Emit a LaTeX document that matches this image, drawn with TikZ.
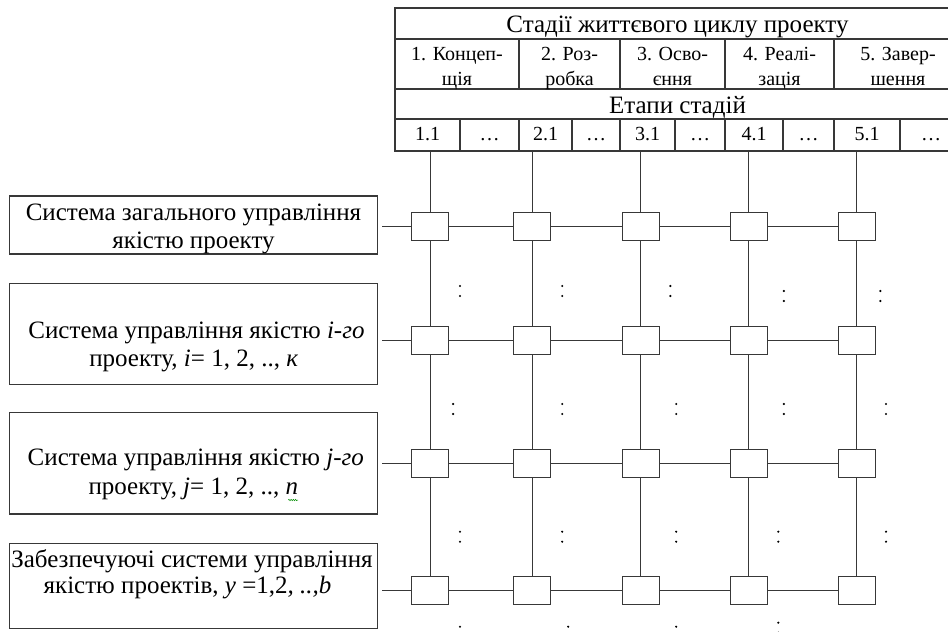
\documentclass[tikz,border=0pt]{standalone}
\usepackage{fontspec}
\setmainfont{Liberation Serif}
\usetikzlibrary{decorations.pathmorphing}
\begin{document}
\begin{tikzpicture}[x=1pt,y=-1pt,
  ln/.style={line width=1.2pt, draw=black!78},
  cellbox/.style={ln, fill=white, minimum width=37pt, minimum height=28pt, inner sep=0pt},
  lbox/.style={ln, inner sep=0pt, minimum width=368.4pt},
  big/.style={font=\fontsize{25}{27}\selectfont, inner sep=0pt, anchor=base},
  small/.style={font=\fontsize{20}{25}\selectfont, inner sep=0pt, anchor=base},
  dotmark/.style={fill=black}
]
\useasboundingbox (0,0) rectangle (948,632);

% ---- header table ----
\draw[ln] (395,8) rectangle (962,151);
\draw[ln] (395,39) -- (962,39);
\draw[ln] (395,89) -- (962,89);
\draw[ln] (395,119) -- (962,119);
\foreach \x in {519,620,725,834} {
  \draw[ln] (\x,39) -- (\x,89);
  \draw[ln] (\x,119) -- (\x,151);
}
\foreach \x in {460,572,675,783,900} {
  \draw[ln] (\x,119) -- (\x,151);
}
\node[big] (H) at (677.5,32.5) {Стадії життєвого циклу проекту};
\node[big] (E) at (677.5,113) {Етапи стадій};

\node[small] (S1a) at (457,60.5) {1. Концеп-};
\node[small] (S1b) at (457,85) {щія};
\node[small] (S2a) at (569.5,60.5) {2. Роз-};
\node[small] (S2b) at (569.5,85) {робка};
\node[small] (S3a) at (672.5,60.5) {3. Осво-};
\node[small] (S3b) at (672.5,85) {єння};
\node[small] (S4a) at (779.5,60.5) {4. Реалі-};
\node[small] (S4b) at (779.5,85) {зація};
\node[small] (S5a) at (898,60.5) {5. Завер-};
\node[small] (S5b) at (898,85) {шення};

\foreach \n/\x/\t in {1/427.5/1.1, 2/489.5/…, 3/545.5/2.1, 4/596/…, 5/647.5/3.1,
                      6/700/…, 7/754/4.1, 8/808.5/…, 9/867/5.1, 10/931/…} {
  \node[small] (P\n) at (\x,140) {\t};
}

% ---- left boxes ----
\node[lbox, minimum height=58pt]  (L1) at (193.5,225) {};
\node[lbox, minimum height=101pt] (L2) at (193.5,333.8) {};
\node[lbox, minimum height=101.3pt] (L3) at (193.5,463.3) {};
\node[lbox, minimum height=85pt]  (L4) at (193.5,585.8) {};

\node[big] (T1a) at (193.5,220.5) {Система загального управління};
\node[big] (T1b) at (193.5,248) {якістю проекту};
\node[big] (T2a) at (196.5,338.5) {Система управління якістю \textit{i-го}};
\node[big] (T2b) at (193.7,366) {проекту, \textit{i}= 1, 2, .., \textit{к}};
\node[big] (T3a) at (195.8,465) {Система управління якістю \textit{j-го}};
\node[big] (T3b) at (193.3,494) {проекту, \textit{j}= 1, 2, .., \textit{n}};
\node[big] (T4a) at (192,567) {Забезпечуючі системи управління};
\node[big] (T4b) at (187.5,593.5) {якістю проектів, \textit{y} =1,2\textit{, ..,b}};
\draw[green!55!black, line width=0.5pt, decorate,
      decoration={snake, amplitude=0.7pt, segment length=2.2pt}]
  ([shift={(-10,6)}]T3b.base east) -- ([shift={(0,6)}]T3b.base east);

% ---- grid of boxes ----
\foreach \r/\y in {1/226.7, 2/340.6, 3/463.3, 4/590.5} {
  \foreach \c/\x in {1/430.2, 2/532.2, 3/640.8, 4/748.7, 5/856.7} {
    \node[cellbox] (B\r\c) at (\x,\y) {};
  }
}
\foreach \c/\x in {1/430.2, 2/532.2, 3/640.8, 4/748.7, 5/856.7} {
  \coordinate (C\c) at (\x,151);
  \draw[ln] (C\c) -- (B1\c);
  \draw[ln] (B1\c) -- (B2\c);
  \draw[ln] (B2\c) -- (B3\c);
  \draw[ln] (B3\c) -- (B4\c);
}
\foreach \r in {1,2,3,4} {
  \draw[ln] ([xshift=4pt]L\r.east |- B\r1.west) -- (B\r1);
  \draw[ln] (B\r1) -- (B\r2);
  \draw[ln] (B\r2) -- (B\r3);
  \draw[ln] (B\r3) -- (B\r4);
  \draw[ln] (B\r4) -- (B\r5);
}

% ---- vertical ellipsis marks ----
\foreach \x/\y in {460/286, 562.2/286, 670.3/286, 783.9/291, 880.4/291,
                   453.1/404, 562.2/404, 676.2/404, 783.9/404, 886/404,
                   460/531.7, 562.2/531.7, 676.2/531.7, 778.3/531.7, 886/531.7,
                   460/626.7, 568.2/626.7, 676.2/626.7, 778.3/622.7} {
  \fill[dotmark] (\x,\y) circle (1.2pt);
  \fill[dotmark] (\x,\y+10) circle (1.2pt);
}
\end{tikzpicture}
\end{document}
